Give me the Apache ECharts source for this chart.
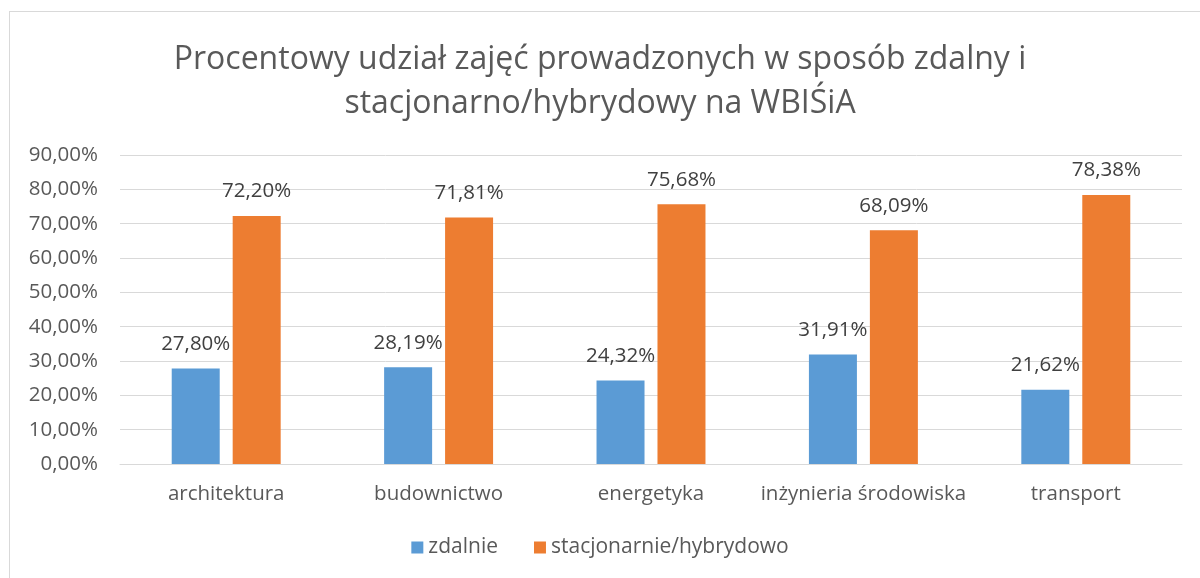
<!DOCTYPE html>
<html lang="pl">
<head>
  <meta charset="UTF-8">
  <title>Procentowy udział zajęć</title>
  <script src="https://cdn.jsdelivr.net/npm/echarts@6/dist/echarts.min.js"></script>
  <style>
    html, body {
      margin: 0;
      padding: 0;
      background: #fff;
      overflow: hidden;
    }
    /* ramka wykresu jak w Excelu */
    #frame {
      position: absolute;
      left: 9px;
      top: 11px;
      width: 1220px;
      height: 620px;
      border: 1px solid #d9d9d9;
    }
    #main {
      position: absolute;
      left: 0;
      top: 0;
      width: 1200px;
      height: 578px;
    }
  </style>
</head>
<body>
  <div id="frame"></div>
  <div id="main"></div>
  <script>
    // dane
    const categories = ['architektura', 'budownictwo', 'energetyka', 'inżynieria środowiska', 'transport'];
    const zdalnie = [27.80, 28.19, 24.32, 31.91, 21.62];
    const stacjonarnie = [72.20, 71.81, 75.68, 68.09, 78.38];

    const fontFamily = '"Open Sans", Lato, sans-serif';
    const fmt = v => v.toFixed(2).replace('.', ',') + '%';

    const chart = echarts.init(document.getElementById('main'));

    const labelStyle = {
      show: true,
      position: 'top',
      distance: 14,
      fontFamily: fontFamily,
      fontSize: 20.5,
      color: '#404040',
      formatter: p => fmt(p.value)
    };

    const option = {
      animation: false,
      textStyle: { fontFamily: fontFamily },
      title: {
        text: 'Procentowy udział zajęć prowadzonych w sposób zdalny i\nstacjonarno/hybrydowy na WBIŚiA',
        left: 'center',
        top: 33,
        textStyle: {
          fontFamily: fontFamily,
          fontSize: 32,
          fontWeight: 'normal',
          color: '#595959',
          lineHeight: 44
        }
      },
      legend: {
        bottom: 15,
        left: 'center',
        itemWidth: 12,
        itemHeight: 12,
        itemGap: 36,
        icon: 'rect',
        textStyle: { fontFamily: fontFamily, fontSize: 21, color: '#595959' },
        data: ['zdalnie', 'stacjonarnie/hybrydowo']
      },
      grid: {
        left: 120,
        right: 18,
        top: 155,
        bottom: 114
      },
      xAxis: {
        type: 'category',
        data: categories,
        axisTick: { show: false },
        axisLine: { lineStyle: { color: '#d9d9d9', width: 1 } },
        axisLabel: {
          margin: 20,
          fontFamily: fontFamily,
          fontSize: 20.5,
          color: '#595959',
          interval: 0
        }
      },
      yAxis: {
        type: 'value',
        min: 0,
        max: 90,
        interval: 10,
        axisLine: { show: false },
        axisTick: { show: false },
        splitLine: { lineStyle: { color: '#d9d9d9', width: 1 } },
        axisLabel: {
          margin: 22,
          fontFamily: fontFamily,
          fontSize: 20.5,
          color: '#595959',
          formatter: v => fmt(v)
        }
      },
      series: [
        {
          name: 'zdalnie',
          type: 'bar',
          data: zdalnie,
          barWidth: 48,
          barGap: '27%',
          itemStyle: { color: '#5b9bd5' },
          label: labelStyle
        },
        {
          name: 'stacjonarnie/hybrydowo',
          type: 'bar',
          data: stacjonarnie,
          barWidth: 48,
          itemStyle: { color: '#ed7d31' },
          label: labelStyle
        }
      ]
    };

    chart.setOption(option);
  </script>
</body>
</html>
